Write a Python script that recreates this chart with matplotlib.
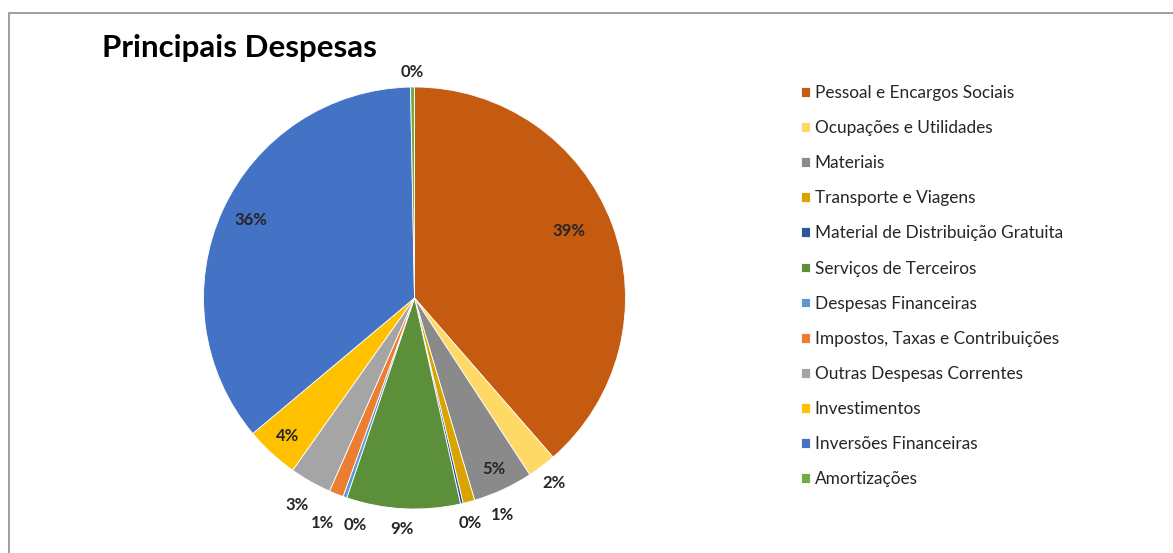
import matplotlib.pyplot as plt
import numpy as np
from matplotlib.patches import Rectangle

plt.rcParams['font.family'] = ['Lato', 'DejaVu Sans']

# dados das despesas (% do total)
categorias = ['Pessoal e Encargos Sociais', 'Ocupações e Utilidades', 'Materiais',
              'Transporte e Viagens', 'Material de Distribuição Gratuita',
              'Serviços de Terceiros', 'Despesas Financeiras',
              'Impostos, Taxas e Contribuições', 'Outras Despesas Correntes',
              'Investimentos', 'Inversões Financeiras', 'Amortizações']
valores = [38.6, 2.2, 4.6, 0.9, 0.2, 8.7, 0.3, 1.1, 3.2, 4.1, 35.8, 0.3]
cores = ['#C55A11', '#FFD966', '#8A8A8A', '#D9A300', '#2F5597', '#5B8F3A',
         '#5B9BD5', '#ED7D31', '#A5A5A5', '#FFC000', '#4472C4', '#70AD47']

# posicao dos rotulos: raio (fração do raio da pizza) e desvio angular (graus)
raio_rot = [0.80, 1.10, 0.895, 1.11, 1.10, 1.095, 1.11, 1.15, 1.13, 0.89, 0.86, 1.07]
desvio = [-3, 0, 0, -7, -1, 0, -4.7, 0.5, 0, 0, 1, 0]

W, H = 1173, 553
fig = plt.figure(figsize=(W / 100, H / 100), dpi=100)

# moldura do gráfico
fig.patches.append(Rectangle((8.5 / W, -0.1), 1.2, 1 - 13.5 / H + 0.1,
                             transform=fig.transFigure, fill=False,
                             edgecolor='#8f8f8f', linewidth=1.2))

fig.text(102 / W, 1 - 48 / H, 'Principais Despesas', fontsize=22.5,
         fontweight='bold', va='center', ha='left', color='black')

cx, cy, R = 414.5, 298, 211
ax = fig.add_axes([(cx - R) / W, (H - cy - R) / H, 2 * R / W, 2 * R / H])
wedges, _ = ax.pie(valores, colors=cores, startangle=90, counterclock=False,
                   wedgeprops=dict(edgecolor='white', linewidth=0.6))
ax.set_xlim(-1, 1)
ax.set_ylim(-1, 1)

# rótulos de porcentagem
acum = np.cumsum([0] + valores[:-1])
total = sum(valores)
for v, a, r, d in zip(valores, acum, raio_rot, desvio):
    th = np.radians((a + v / 2) / total * 360 + d)
    ax.text(r * np.sin(th), r * np.cos(th), f'{round(v):.0f}%', ha='center',
            va='center', fontsize=12, fontweight='bold', color='#262626',
            clip_on=False)

fig.legend(wedges, categorias, loc='upper left',
           bbox_to_anchor=(801 / W, 1 - 85 / H), frameon=False, fontsize=12.4,
           handlelength=0.5, handleheight=0.5, handletextpad=0.3,
           labelspacing=1.11, borderpad=0, borderaxespad=0,
           labelcolor='#262626')

fig.savefig('out.png', dpi=100, facecolor='white')
